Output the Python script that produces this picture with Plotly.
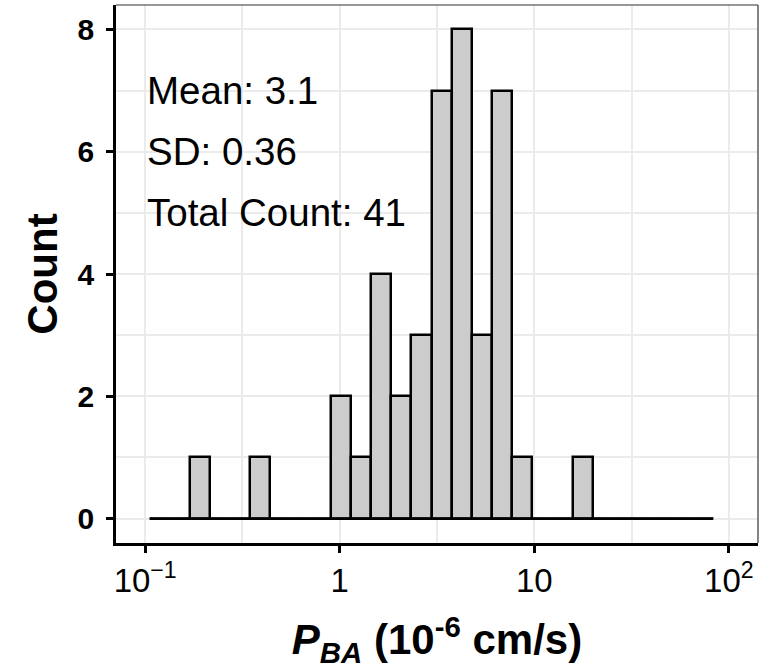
import plotly.graph_objects as go

# ---- data (histogram of log10 P_BA, 10^-6 cm/s) ----
bin_start_log = -0.977      # log10 of first bin's lower edge
bin_width_log = 0.1035      # bin width in log10 units
counts = [0, 0, 1, 0, 0, 1, 0, 0, 0, 2, 1, 4, 2, 3, 7, 8, 3, 7, 1, 0, 0, 1, 0, 0, 0, 0, 0, 0]
x_tick_vals = [-1, 0, 1, 2]
x_tick_text = ["10<sup>\u22121</sup>", "1", "10", "10<sup>2</sup>"]
y_tick_vals = [0, 2, 4, 6, 8]
stats_labels = ["Mean: 3.1", "SD: 0.36", "Total Count: 41"]
stats_y = [7, 6, 5]

n_bins = len(counts)
centers = [bin_start_log + (i + 0.5) * bin_width_log for i in range(n_bins)]
x_first = bin_start_log
x_last = bin_start_log + n_bins * bin_width_log

FONT = "Liberation Sans, Arial, Helvetica, sans-serif"
GRID = "#EBEBEB"

fig = go.Figure()
fig.add_trace(go.Bar(
    x=centers, y=counts, width=bin_width_log,
    marker=dict(color="#CCCCCC", line=dict(color="black", width=2.5)),
    showlegend=False, hoverinfo="skip"))
fig.add_trace(go.Scatter(
    x=[x_first, x_last], y=[0, 0], mode="lines",
    line=dict(color="black", width=2.5), showlegend=False, hoverinfo="skip"))

for txt, yv in zip(stats_labels, stats_y):
    fig.add_annotation(x=-1, y=yv, text=txt, showarrow=False,
                       xanchor="left", yanchor="middle",
                       font=dict(family=FONT, size=38.5, color="black"))

# panel border (top and right)
fig.add_shape(type="line", xref="paper", yref="paper", x0=0, x1=1, y0=1, y1=1,
              line=dict(color="#333333", width=1.2))
fig.add_shape(type="line", xref="paper", yref="paper", x0=1, x1=1, y0=0, y1=1,
              line=dict(color="#333333", width=1.2))

fig.update_layout(
    width=780, height=669,
    margin=dict(l=116, r=22, t=5, b=126),
    plot_bgcolor="white", paper_bgcolor="white",
    bargap=0,
    font=dict(family=FONT, color="black"),
    xaxis=dict(
        range=[-1.15, 2.15], tickmode="array", tickvals=x_tick_vals, ticktext=x_tick_text,
        showgrid=True, gridcolor=GRID, gridwidth=2.2, zeroline=False,
        minor=dict(tickmode="array", tickvals=[-0.5, 0.5, 1.5], showgrid=True,
                   gridcolor=GRID, gridwidth=1.5, ticks=""),
        showline=True, linecolor="black", linewidth=2.5,
        ticks="outside", ticklen=7, tickwidth=2.5, tickcolor="black",
        tickfont=dict(family=FONT, size=33, color="black"),
        title=dict(text="<b><i>P<sub>BA</sub></i> (10<sup>-6</sup> cm/s)</b>",
                   font=dict(family=FONT, size=42, color="black"), standoff=30),
    ),
    yaxis=dict(
        range=[-0.4, 8.4], tickmode="array", tickvals=y_tick_vals,
        showgrid=True, gridcolor=GRID, gridwidth=2.2, zeroline=False,
        minor=dict(tickmode="array", tickvals=[1, 3, 5, 7], showgrid=True,
                   gridcolor=GRID, gridwidth=1.5, ticks=""),
        showline=True, linecolor="black", linewidth=2.5,
        ticks="outside", ticklen=7, tickwidth=2.5, tickcolor="black",
        ticklabelstandoff=6,
        tickfont=dict(family=FONT, size=30, color="black", weight="bold"),
        title=dict(text="<b>Count</b>", font=dict(family=FONT, size=42, color="black"),
                   standoff=7),
    ),
)

fig.write_html("out.html")
